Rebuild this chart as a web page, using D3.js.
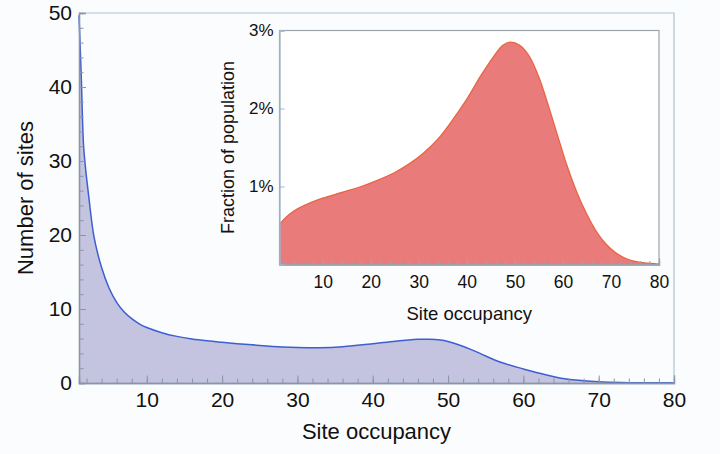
<!DOCTYPE html>
<html>
<head>
<meta charset="utf-8">
<script src="https://cdn.jsdelivr.net/npm/d3@7"></script>
<style>
  html, body { margin: 0; padding: 0; background: #fbfcfd; }
  svg { display: block; font-family: "Liberation Sans", Arial, Helvetica, sans-serif; }
</style>
</head>
<body>
<svg id="chart" width="720" height="454"></svg>
<script>
// Number of sites at each site occupancy (main panel)
const siteOccupancy = [1, 1.3, 1.6, 1.9, 2.25, 3, 4, 5, 6, 7, 8, 9, 10, 12, 14, 16, 18, 20, 22, 25, 28, 30, 33, 36, 40, 43, 46, 47.5, 49, 50, 51, 53, 55, 57, 60, 62, 65, 68, 70, 73, 76, 80];
const numberOfSites = [49.7, 41.4, 32.2, 28.7, 25.6, 19.7, 15.6, 12.8, 10.9, 9.6, 8.7, 8.0, 7.5, 6.8, 6.3, 5.95, 5.7, 5.5, 5.32, 5.08, 4.88, 4.8, 4.77, 4.9, 5.3, 5.65, 5.9, 5.92, 5.8, 5.6, 5.3, 4.55, 3.65, 2.8, 1.9, 1.35, 0.65, 0.31, 0.18, 0.08, 0.04, 0.02];

// Fraction of population (%) at each site occupancy (inset)
const insetOccupancy = [1, 2, 4, 7, 10, 14, 18, 21, 25, 28, 31, 34, 37, 40, 43, 45.5, 47.5, 49, 51, 53, 55, 57, 59, 61, 63, 65, 67, 69, 71, 73, 75, 77, 80];
const fractionPct = [0.51, 0.585, 0.685, 0.78, 0.85, 0.925, 1.0, 1.07, 1.18, 1.29, 1.43, 1.61, 1.85, 2.12, 2.43, 2.66, 2.81, 2.85, 2.81, 2.67, 2.40, 2.03, 1.63, 1.24, 0.91, 0.64, 0.42, 0.26, 0.15, 0.08, 0.04, 0.02, 0.005];

// Tick values
const mainXTicks = [10, 20, 30, 40, 50, 60, 70, 80];
const mainYTicks = [0, 10, 20, 30, 40, 50];
const insetXTicks = [10, 20, 30, 40, 50, 60, 70, 80];
const insetYTicks = [1, 2, 3];
const insetYLabels = ["1%", "2%", "3%"];
const minorSteps = d3.range(2, 81, 2);
const mainYMinor = d3.range(0, 51, 2);

const svg = d3.select("#chart");
const FONT = "\"Liberation Sans\", Arial, Helvetica, sans-serif";
const smooth = d3.curveCatmullRom.alpha(0.5);

// ---------- main panel ----------
const x = d3.scaleLinear().domain([1, 80]).range([79, 674]);
const y = d3.scaleLinear().domain([0, 50]).range([383, 13]);

const mainPts = siteOccupancy.map((d, i) => [d, numberOfSites[i]]);

svg.append("path")
  .datum(mainPts)
  .attr("fill", "#c4c3e0")
  .attr("d", d3.area().x(d => x(d[0])).y0(y(0)).y1(d => y(d[1])).curve(smooth));

svg.append("path")
  .datum(mainPts)
  .attr("fill", "none")
  .attr("stroke", "#3d5fcf")
  .attr("stroke-width", 1.5)
  .attr("d", d3.line().x(d => x(d[0])).y(d => y(d[1])).curve(smooth));

// frame (top and right)
svg.append("path")
  .attr("d", `M${x(1)},${y(50)}H${x(80)}V${y(0)}`)
  .attr("fill", "none")
  .attr("stroke", "#a8c4da")
  .attr("stroke-width", 1.2);

function styleAxis(g, color) {
  g.select(".domain").attr("stroke", color).attr("stroke-width", 1.3);
  g.selectAll(".tick line").attr("stroke", color).attr("stroke-width", 1);
  g.selectAll("text").attr("fill", "#111").style("font-family", FONT);
}

// minor ticks
svg.append("g").attr("transform", `translate(0,${y(0)})`)
  .call(d3.axisBottom(x).tickValues(minorSteps).tickSize(-4.5).tickFormat(""))
  .call(g => styleAxis(g, "#8a96a6"));
svg.append("g").attr("transform", `translate(${x(1)},0)`)
  .call(d3.axisLeft(y).tickValues(mainYMinor).tickSize(-4.5).tickFormat(""))
  .call(g => styleAxis(g, "#8a96a6"));

// major ticks with labels
svg.append("g").attr("transform", `translate(0,${y(0)})`)
  .call(d3.axisBottom(x).tickValues(mainXTicks).tickSize(-7.5).tickPadding(9))
  .call(g => styleAxis(g, "#8a96a6"))
  .call(g => g.selectAll("text").style("font-size", "21px"));
svg.append("g").attr("transform", `translate(${x(1)},0)`)
  .call(d3.axisLeft(y).tickValues(mainYTicks).tickSize(-7).tickPadding(7))
  .call(g => styleAxis(g, "#8a96a6"))
  .call(g => g.selectAll("text").style("font-size", "21px"));

svg.append("text")
  .attr("x", (x(1) + x(80)) / 2).attr("y", 439)
  .attr("text-anchor", "middle")
  .style("font-size", "22px").attr("fill", "#111")
  .text("Site occupancy");

svg.append("text")
  .attr("transform", `translate(33,198) rotate(-90)`)
  .attr("text-anchor", "middle")
  .style("font-size", "22px").attr("fill", "#111")
  .text("Number of sites");

// ---------- inset panel ----------
const ix = d3.scaleLinear().domain([1, 80]).range([279.5, 659]);
const iy = d3.scaleLinear().domain([0, 3]).range([264.5, 30.5]);

svg.append("rect")
  .attr("x", ix(1)).attr("y", iy(3))
  .attr("width", ix(80) - ix(1)).attr("height", iy(0) - iy(3))
  .attr("fill", "#ffffff")
  .attr("stroke", "#9ea4ac").attr("stroke-width", 1.2);

const insetPts = insetOccupancy.map((d, i) => [d, fractionPct[i]]);

svg.append("path")
  .datum(insetPts)
  .attr("fill", "#e97b7b")
  .attr("d", d3.area().x(d => ix(d[0])).y0(iy(0)).y1(d => iy(d[1])).curve(smooth));

svg.append("path")
  .datum(insetPts)
  .attr("fill", "none")
  .attr("stroke", "#ea6340")
  .attr("stroke-width", 1.3)
  .attr("d", d3.line().x(d => ix(d[0])).y(d => iy(d[1])).curve(smooth));

svg.append("g").attr("transform", `translate(0,${iy(0)})`)
  .call(d3.axisBottom(ix).tickValues(minorSteps).tickSize(-3.5).tickFormat(""))
  .call(g => styleAxis(g, "#9ea4ac"));
svg.append("g").attr("transform", `translate(0,${iy(0)})`)
  .call(d3.axisBottom(ix).tickValues(insetXTicks).tickSize(-6).tickPadding(11))
  .call(g => styleAxis(g, "#9ea4ac"))
  .call(g => g.selectAll("text").style("font-size", "17.5px"));
svg.append("g").attr("transform", `translate(${ix(1)},0)`)
  .call(d3.axisLeft(iy).tickValues(insetYTicks).tickSize(-5).tickPadding(6)
    .tickFormat((d, i) => insetYLabels[i]))
  .call(g => styleAxis(g, "#9fb6cc"))
  .call(g => g.selectAll("text").style("font-size", "17px"));

svg.append("text")
  .attr("x", (ix(1) + ix(80)) / 2).attr("y", 320)
  .attr("text-anchor", "middle")
  .style("font-size", "18.5px").attr("fill", "#111")
  .text("Site occupancy");

svg.append("text")
  .attr("transform", `translate(233.5,147.5) rotate(-90)`)
  .attr("text-anchor", "middle")
  .style("font-size", "18px").attr("fill", "#111")
  .text("Fraction of population");
</script>
</body>
</html>
